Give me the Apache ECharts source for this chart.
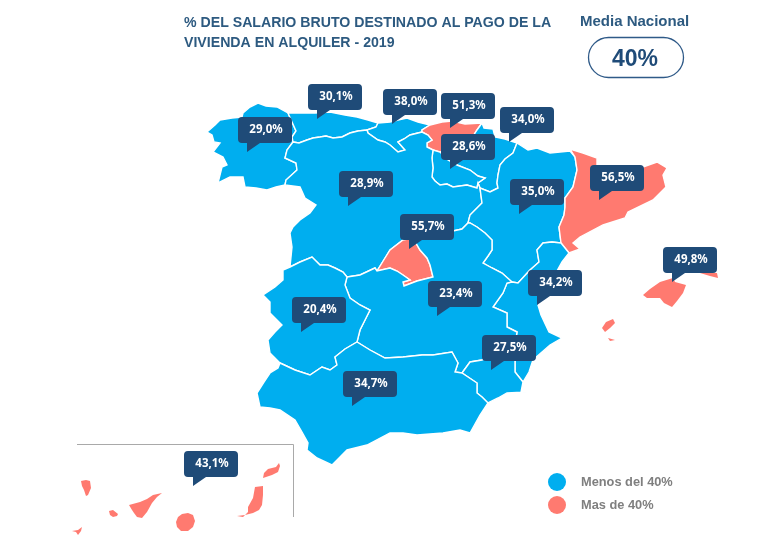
<!DOCTYPE html>
<html><head><meta charset="utf-8">
<style>html,body{margin:0;padding:0;background:#fff}#c{width:768px;height:554px}</style>
<script src="https://cdn.jsdelivr.net/npm/echarts@6/dist/echarts.min.js"></script></head>
<body><div id="c"></div>
<script>
const regions=['Galicia','Asturias','Cantabria','País Vasco','Navarra','La Rioja','Castilla y León','Madrid','Aragón','Cataluña','Baleares','C. Valenciana','Castilla-La Mancha','Extremadura','Murcia','Andalucía','Canarias'];
const shareOfSalary=[29.0,30.1,38.0,51.3,34.0,28.6,28.9,55.7,35.0,56.5,49.8,34.2,23.4,20.4,27.5,34.7,43.1];
const legendLabels=['Menos del 40%','Mas de 40%'];
const nationalMean='40%';

/* region outlines, traced in picture units */
const outlines={
'Galicia':[[[288,113],[277,107],[266,106],[258,103],[250,107],[243,113],[242,117],[232,118],[220,120],[215,125],[207,132],[212,135],[214,142],[220,143],[213,152],[223,157],[227,165],[222,167],[218,183],[230,177],[243,177],[245,187],[256,188],[267,190],[276,187],[285,185],[286,180],[297,170],[296,163],[285,158],[287,150],[293,142],[292,137],[296,131],[292,122]]],
'Asturias':[[[288,113],[300,113],[315,113],[330,112],[345,115],[357,117],[368,120],[378,123],[376,127],[367,130],[358,131],[350,133],[342,137],[333,138],[326,136],[320,137],[313,138],[307,140],[299,143],[293,142],[292,137],[296,131],[292,122]]],
'Cantabria':[[[378,123],[390,122],[398,120],[407,118],[418,122],[430,125],[422,130],[422,132],[410,135],[404,139],[398,142],[405,150],[398,152],[390,145],[385,142],[378,140],[368,133],[367,130],[376,127]]],
'País Vasco':[[[422,130],[430,125],[442,122],[452,121],[465,124],[482,123],[477,130],[472,138],[470,148],[455,152],[440,152],[433,150],[427,147],[427,143],[432,140],[428,135],[422,132]]],
'Navarra':[[[482,123],[484,128],[493,129],[495,137],[505,139],[517,143],[513,153],[505,159],[500,165],[498,175],[497,183],[498,188],[490,192],[480,188],[478,183],[485,178],[478,176],[470,170],[457,165],[448,160],[440,152],[455,152],[470,148],[472,138],[477,130]]],
'La Rioja':[[[440,152],[448,160],[457,165],[470,170],[478,176],[485,178],[478,183],[477,188],[467,185],[453,187],[447,184],[440,185],[435,181],[432,177],[433,168],[432,158],[433,150]]],
'Castilla y León':[[[293,142],[299,143],[307,140],[313,138],[320,137],[326,136],[333,138],[342,137],[350,133],[358,131],[367,130],[368,133],[378,140],[385,142],[390,145],[398,152],[405,150],[398,142],[404,139],[410,135],[422,132],[428,135],[432,140],[427,143],[427,147],[433,150],[432,158],[433,168],[432,177],[435,181],[440,185],[447,184],[453,187],[467,185],[477,188],[478,183],[480,188],[482,203],[476,209],[470,215],[468,223],[462,229],[453,231],[440,231],[425,234],[413,238],[403,240],[390,250],[385,258],[377,271],[375,268],[360,275],[347,277],[343,272],[335,268],[328,265],[320,265],[312,257],[300,262],[290,267],[292,247],[290,233],[293,227],[300,220],[310,213],[316,205],[305,198],[300,187],[285,185],[286,180],[297,170],[296,163],[285,158],[287,150]]],
'Madrid':[[[413,238],[420,250],[427,258],[430,265],[433,277],[417,281],[404,286],[403,282],[410,280],[403,275],[397,271],[390,268],[377,271],[385,258],[390,250],[403,240]]],
'Aragón':[[[517,143],[528,150],[537,148],[550,153],[560,152],[570,151],[575,157],[577,170],[573,187],[565,198],[565,207],[564,215],[559,227],[561,243],[552,242],[543,243],[537,250],[539,262],[530,270],[518,283],[512,282],[502,273],[492,268],[483,263],[488,256],[492,250],[492,240],[485,233],[477,227],[470,223],[468,223],[470,215],[476,209],[482,203],[480,188],[490,192],[498,188],[497,183],[498,175],[500,165],[505,159],[513,153]]],
'Cataluña':[[[570,149],[583,153],[597,158],[597,165],[608,164],[625,168],[643,167],[657,162],[667,168],[663,175],[666,187],[653,200],[628,212],[625,218],[603,225],[580,237],[573,243],[580,249],[569,253],[561,243],[559,227],[564,215],[565,207],[565,198],[573,187],[577,170],[575,157]]],
'Baleares':[[[[643,295],[650,289],[660,282],[673,278],[675,282],[686,285],[683,293],[677,301],[672,307],[664,303],[660,298],[647,298]]],[[[700,273],[717,273],[718,278],[710,276]]],[[[602,328],[606,322],[613,319],[615,323],[610,328],[605,332]]],[[[608,338],[615,340],[610,341]]]],
'C. Valenciana':[[[561,243],[569,253],[562,262],[552,280],[543,295],[538,305],[541,315],[549,332],[562,338],[550,345],[533,360],[529,372],[523,382],[515,372],[515,362],[515,345],[517,332],[507,327],[507,313],[493,307],[503,293],[507,283],[512,282],[518,283],[530,270],[539,262],[537,250],[543,243],[552,242]]],
'Castilla-La Mancha':[[[347,277],[360,275],[375,268],[377,271],[390,268],[397,271],[403,275],[410,280],[403,282],[404,286],[417,281],[433,277],[430,265],[427,258],[420,250],[413,238],[425,234],[440,231],[453,231],[462,229],[468,223],[470,223],[477,227],[485,233],[492,240],[492,250],[488,256],[483,263],[492,268],[502,273],[512,282],[507,283],[503,293],[493,307],[507,313],[507,327],[517,332],[515,345],[500,352],[482,360],[470,362],[462,373],[455,372],[458,363],[452,352],[433,355],[422,355],[403,357],[385,358],[370,350],[357,342],[360,330],[365,320],[370,310],[360,305],[350,298],[345,285]]],
'Extremadura':[[[290,267],[300,262],[312,257],[320,265],[328,265],[335,268],[343,272],[347,277],[345,285],[350,298],[360,305],[370,310],[365,320],[360,330],[357,342],[345,349],[335,357],[337,365],[330,370],[322,367],[310,375],[295,370],[280,363],[270,353],[268,340],[275,332],[282,325],[270,313],[270,302],[263,295],[275,287],[283,280],[283,270]]],
'Murcia':[[[462,373],[470,362],[482,360],[500,352],[515,345],[515,362],[515,372],[523,382],[521,392],[527,392],[507,393],[498,398],[488,403],[482,397],[477,393],[477,383]]],
'Andalucía':[[[280,363],[295,370],[310,375],[322,367],[330,370],[337,365],[335,357],[345,349],[357,342],[370,350],[385,358],[403,357],[422,355],[433,355],[452,352],[458,363],[455,372],[462,373],[477,383],[477,393],[482,397],[488,403],[480,415],[470,433],[460,430],[443,433],[430,434],[417,435],[403,433],[390,433],[367,445],[347,450],[340,457],[332,465],[317,458],[307,450],[308,443],[302,432],[295,420],[280,410],[270,408],[260,407],[257,393],[264,382],[270,373],[278,368]]],
'Canarias':[[[[81,481],[86,480],[90,481],[91,488],[88,495],[86,496],[84,490],[82,486]]],[[[72,531],[78,530],[82,527],[81,531],[78,535],[76,532]]],[[[109,511],[113,510],[118,514],[117,516],[113,517],[110,515]]],[[[129,505],[140,502],[147,499],[153,495],[162,493],[157,497],[152,503],[147,512],[142,518],[137,517],[134,513],[132,510]]],[[[176,522],[178,517],[182,514],[188,513],[193,515],[195,521],[193,527],[188,531],[181,531],[177,527]]],[[[237,516],[243,517],[248,512],[248,507],[253,498],[255,487],[263,486],[263,495],[262,505],[259,510],[253,513],[245,515]]],[[[263,478],[264,473],[268,469],[276,467],[279,463],[280,466],[278,472],[272,475],[266,477]]]]
};
/* where each callout's tail points, same order as regions */
const calloutTips=[[247,152],[317,119],[392,124],[450,128],[509,142],[450,169],[348,206],[409,249],[519,214],[599,200],[672,282],[537,305],[437,316],[301,332],[491,370],[352,406],[193,486]];

const H=554;
const flip=p=>[p[0],H-p[1]];
const features=regions.map(n=>{
  const o=outlines[n];
  const multi=Array.isArray(o[0][0][0]);
  return {type:'Feature',properties:{name:n},geometry:multi
    ?{type:'MultiPolygon',coordinates:o.map(poly=>poly.map(r=>{const f=r.map(flip);f.push(f[0]);return f;}))}
    :{type:'Polygon',coordinates:o.map(r=>{const f=r.map(flip);f.push(f[0]);return f;})}};
});
echarts.registerMap('spain',{type:'FeatureCollection',features});

const BLUE='#00aeef',CORAL='#ff7a70',NAVY='#1f4b78';
const bubble='path://M4,0 H50 Q54,0 54,4 V22 Q54,26 50,26 H22 L9,35 V26 H4 Q0,26 0,22 V4 Q0,0 4,0 Z';
const fmt=v=>v.toFixed(1).replace('.',',')+'%';
const chart=echarts.init(document.getElementById('c'),null,{renderer:'canvas'});
chart.setOption({
  animation:false,
  backgroundColor:'#fff',
  title:[
    {text:'% DEL SALARIO BRUTO DESTINADO AL PAGO DE LA\nVIVIENDA EN ALQUILER - 2019',left:184,top:13,padding:0,textStyle:{fontFamily:'Liberation Sans',fontWeight:'bold',fontSize:14.15,lineHeight:20,color:'#2d5a80'}},
    {text:'Media Nacional',left:580,top:14,padding:0,textStyle:{fontFamily:'Liberation Sans',fontWeight:'bold',fontSize:15,color:'#2d5a80'}},
    {text:nationalMean,left:635,top:48,padding:0,textAlign:'center',textStyle:{fontFamily:'Liberation Sans',fontWeight:'bold',fontSize:23,color:'#1f4b78'}}
  ],
  graphic:[
    {type:'rect',shape:{x:588.5,y:37.5,width:95,height:40,r:20},style:{fill:'none',stroke:'#2f5a88',lineWidth:1.3}},
    {type:'polyline',shape:{points:[[77,444.5],[293.5,444.5],[293.5,517]]},style:{fill:'none',stroke:'#a9a9a9',lineWidth:1}}
  ],
  visualMap:{type:'piecewise',seriesIndex:0,left:548,top:473,padding:0,orient:'vertical',align:'left',itemSymbol:'circle',itemWidth:18,itemHeight:18,itemGap:5,
    textGap:15,inverse:true,selectedMode:false,
    textStyle:{fontFamily:'Liberation Sans',fontWeight:'bold',fontSize:12.8,color:'#7f7f7f',padding:[0,0,4,0]},
    pieces:[{min:40,label:legendLabels[1],color:CORAL},{max:40,label:legendLabels[0],color:BLUE}]},
  geo:{map:'spain',boundingCoords:[[0,H],[768,0]],left:0,top:0,width:768,height:H,aspectScale:1,roam:false,silent:true,
    label:{show:false},itemStyle:{borderColor:'#fff',borderWidth:1.4,areaColor:BLUE},emphasis:{disabled:true},
    regions:[{name:'Canarias',itemStyle:{borderWidth:0}},{name:'Baleares',itemStyle:{borderWidth:0}}]},
  series:[
    {type:'map',geoIndex:0,data:regions.map((n,i)=>({name:n,value:shareOfSalary[i]}))},
    {type:'scatter',coordinateSystem:'geo',z:10,silent:true,
      symbol:bubble,symbolSize:[54,35],symbolOffset:[18,-17.5],
      itemStyle:{color:NAVY,opacity:1},
      label:{show:true,position:'inside',offset:[1,-4.5],color:'#fff',fontFamily:'Noto Sans',fontWeight:'bold',fontSize:11.5,
        formatter:p=>fmt(p.value[2])},
      data:regions.map((n,i)=>({name:n,value:[...flip(calloutTips[i]),shareOfSalary[i]]}))}
  ]
});
</script></body></html>
